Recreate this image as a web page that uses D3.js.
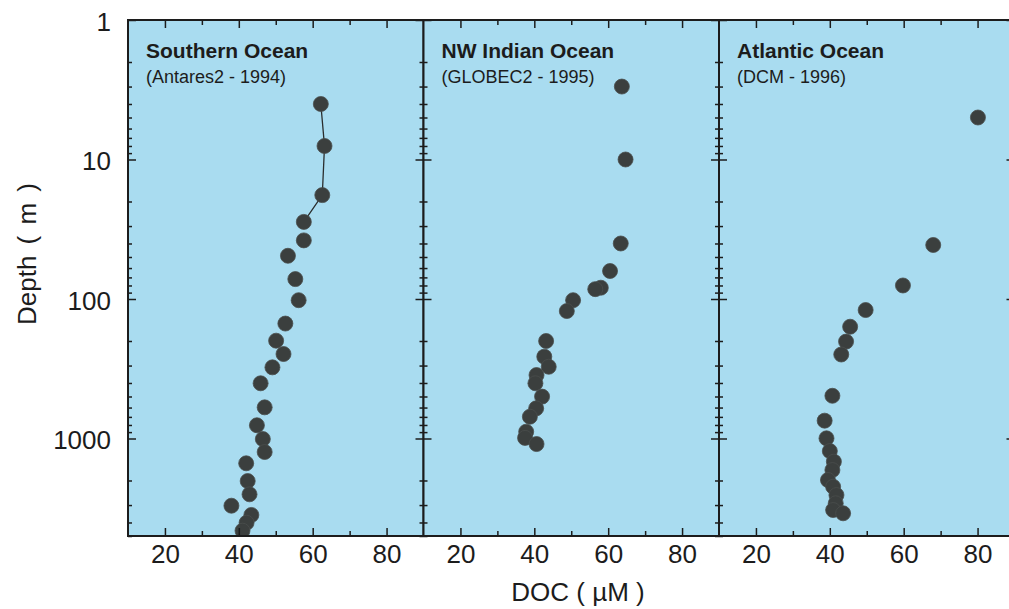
<!DOCTYPE html>
<html>
<head>
<meta charset="utf-8">
<script src="https://cdn.jsdelivr.net/npm/d3@7"></script>
<style>
  body { margin: 0; background: #fff; }
  svg text { font-family: "Liberation Sans", Arial, sans-serif; fill: #1c1c1c; }
  .tick line { stroke: #1c1c1c; stroke-width: 1.5; }
</style>
</head>
<body>
<div id="plot"></div>
<script>
// panel labels
var panelTitles = ["Southern Ocean", "NW Indian Ocean", "Atlantic Ocean"];
var panelSubtitles = ["(Antares2 - 1994)", "(GLOBEC2 - 1995)", "(DCM - 1996)"];

// Southern Ocean profile (depth in m, DOC in uM)
var southernDepth = [4, 8, 18, 28, 38, 49, 72, 102, 150, 199, 248, 309, 402, 598, 804, 1009, 1250, 1506, 2018, 2513, 3033, 3532, 4016, 4580];
var southernDoc   = [62.2, 63.2, 62.6, 57.6, 57.6, 53.3, 55.3, 56.2, 52.6, 50.1, 52.1, 49.1, 45.9, 47.0, 44.9, 46.5, 47.0, 42.0, 42.4, 42.9, 38.0, 43.4, 42.1, 41.0];

// NW Indian Ocean profile
var indianDepth = [3.0, 10, 40, 63, 83, 85, 102, 122, 200, 259, 306, 351, 402, 501, 608, 698, 894, 990, 1096];
var indianDoc   = [63.7, 64.7, 63.4, 60.5, 58.0, 56.5, 50.5, 48.8, 43.2, 42.7, 43.9, 40.6, 40.3, 42.1, 40.5, 38.8, 37.8, 37.5, 40.6];

// Atlantic Ocean profile
var atlanticDepth = [5.0, 41, 80, 120, 158, 202, 250, 494, 745, 997, 1230, 1466, 1683, 1984, 2217, 2543, 2915, 3257, 3437];
var atlanticDoc   = [80.1, 68.0, 59.8, 49.7, 45.5, 44.4, 43.1, 40.7, 38.6, 39.1, 40.0, 41.1, 40.7, 39.5, 40.9, 41.8, 41.6, 40.9, 43.6];

// number of near-surface points joined by a line, per panel
var linkedPoints = [4, 0, 0];

// ticks
var xTicks = [20, 40, 60, 80];
var xMinorTicks = [30, 50, 70];
var yTicks = [1, 10, 100, 1000];

var panels = [
  {depth: southernDepth, doc: southernDoc},
  {depth: indianDepth, doc: indianDoc},
  {depth: atlanticDepth, doc: atlanticDoc}
];

// dimensions
var margin = {top: 20, left: 128},
    pw = 295.5,
    height = 516;

var x = d3.scaleLinear().domain([10, 90]).range([0, pw]);
var y = d3.scaleLog().domain([1, 5000]).range([0, height]);
var yMinorTicks = y.ticks().filter(function(d) { return yTicks.indexOf(d) < 0; });

var svg = d3.select("#plot").append("svg")
    .attr("width", 1009)
    .attr("height", 609);

svg.append("defs").append("clipPath")
    .attr("id", "clip")
  .append("rect")
    .attr("width", pw)
    .attr("height", height);

panels.forEach(function(p, i) {
  var g = svg.append("g")
      .attr("transform", "translate(" + (margin.left + i * pw) + "," + margin.top + ")");

  g.append("rect")
      .attr("width", pw)
      .attr("height", height)
      .attr("fill", "#a9dcf0");

  // titles
  g.append("text")
      .attr("x", 18).attr("y", 38)
      .attr("font-size", 21)
      .attr("font-weight", "bold")
      .text(panelTitles[i]);
  g.append("text")
      .attr("x", 18).attr("y", 63)
      .attr("font-size", 18)
      .text(panelSubtitles[i]);

  var pts = p.depth.map(function(d, k) { return {depth: d, doc: p.doc[k]}; });

  var plot = g.append("g").attr("clip-path", "url(#clip)");

  if (linkedPoints[i] > 1) {
    plot.append("path")
        .datum(pts.slice(0, linkedPoints[i]))
        .attr("fill", "none")
        .attr("stroke", "#2a2d2d")
        .attr("stroke-width", 1.3)
        .attr("d", d3.line()
            .x(function(d) { return x(d.doc); })
            .y(function(d) { return y(d.depth); }));
  }

  plot.selectAll("circle")
      .data(pts)
    .enter().append("circle")
      .attr("r", 7.5)
      .attr("cx", function(d) { return x(d.doc); })
      .attr("cy", function(d) { return y(d.depth); })
      .attr("fill", "#3b3f3e")
      .attr("stroke", "#4a4e4d")
      .attr("stroke-width", 0.8);

  // x axes, ticks pointing inward
  g.append("g")
      .attr("transform", "translate(0," + height + ")")
      .call(d3.axisBottom(x).tickValues(xTicks).tickSizeInner(-8).tickSizeOuter(0).tickPadding(9))
      .call(function(a) {
        a.select(".domain").remove();
        a.selectAll("text").attr("font-size", 26).attr("font-family", null);
      });
  g.append("g")
      .attr("transform", "translate(0," + height + ")")
      .call(d3.axisBottom(x).tickValues(xMinorTicks).tickSize(-5).tickFormat(""))
      .call(function(a) { a.select(".domain").remove(); });
  g.append("g")
      .call(d3.axisTop(x).tickValues(xTicks).tickSize(-8).tickFormat(""))
      .call(function(a) { a.select(".domain").remove(); });
  g.append("g")
      .call(d3.axisTop(x).tickValues(xMinorTicks).tickSize(-5).tickFormat(""))
      .call(function(a) { a.select(".domain").remove(); });

  // y axes on both sides
  var left = d3.axisLeft(y).tickValues(yTicks).tickSize(-8).tickPadding(17)
      .tickFormat(i === 0 ? d3.format("d") : "");
  g.append("g")
      .call(left)
      .call(function(a) {
        a.select(".domain").remove();
        a.selectAll("text").attr("font-size", 26).attr("font-family", null).attr("dy", "0.4em");
      });
  g.append("g")
      .call(d3.axisLeft(y).tickValues(yMinorTicks).tickSize(-4).tickFormat(""))
      .call(function(a) { a.select(".domain").remove(); });
  g.append("g")
      .attr("transform", "translate(" + pw + ",0)")
      .call(d3.axisRight(y).tickValues(yTicks).tickSize(-8).tickFormat(""))
      .call(function(a) { a.select(".domain").remove(); });
  g.append("g")
      .attr("transform", "translate(" + pw + ",0)")
      .call(d3.axisRight(y).tickValues(yMinorTicks).tickSize(-4).tickFormat(""))
      .call(function(a) { a.select(".domain").remove(); });

  // frame
  g.append("rect")
      .attr("width", pw)
      .attr("height", height)
      .attr("fill", "none")
      .attr("stroke", "#1c1c1c")
      .attr("stroke-width", 2);
});

// axis titles
svg.append("text")
    .attr("transform", "translate(36,254) rotate(-90)")
    .attr("text-anchor", "middle")
    .attr("font-size", 26)
    .attr("word-spacing", 4)
    .text("Depth ( m )");

svg.append("text")
    .attr("x", 578)
    .attr("y", 601)
    .attr("text-anchor", "middle")
    .attr("font-size", 26)
    .text("DOC ( µM )");
</script>
</body>
</html>
